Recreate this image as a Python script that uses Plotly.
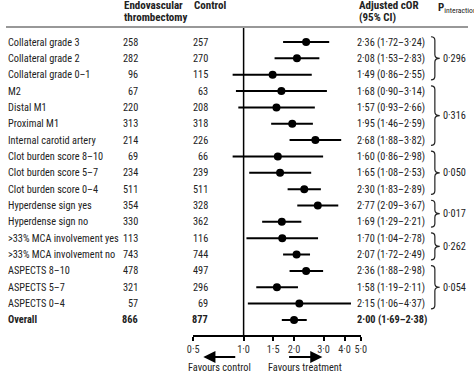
import math
import plotly.graph_objects as go

# ---------------- data ----------------
labels = ["Collateral grade 3", "Collateral grade 2", "Collateral grade 0–1", "M2", "Distal M1",
          "Proximal M1", "Internal carotid artery", "Clot burden score 8–10", "Clot burden score 5–7",
          "Clot burden score 0–4", "Hyperdense sign yes", "Hyperdense sign no",
          ">33% MCA involvement yes", ">33% MCA involvement no", "ASPECTS 8–10", "ASPECTS 5–7",
          "ASPECTS 0–4", "Overall"]
n_evt = [258, 282, 96, 67, 220, 313, 214, 69, 234, 511, 354, 330, 113, 743, 478, 321, 57, 866]
n_ctrl = [257, 270, 115, 63, 208, 318, 226, 66, 239, 511, 328, 362, 116, 744, 497, 296, 69, 877]
cor = [2.36, 2.08, 1.49, 1.68, 1.57, 1.95, 2.68, 1.60, 1.65, 2.30, 2.77, 1.69, 1.70, 2.07, 2.36, 1.58, 2.15, 2.00]
ci_lo = [1.72, 1.53, 0.86, 0.90, 0.93, 1.46, 1.88, 0.86, 1.08, 1.83, 2.09, 1.29, 1.04, 1.72, 1.88, 1.19, 1.06, 1.69]
ci_hi = [3.24, 2.83, 2.55, 3.14, 2.66, 2.59, 3.82, 2.98, 2.53, 2.89, 3.67, 2.21, 2.78, 2.49, 2.98, 2.11, 4.37, 2.38]
groups = [(0, 2), (3, 6), (7, 9), (10, 11), (12, 13), (14, 16)]
p_interaction = ["0·296", "0·316", "0·050", "0·017", "0·262", "0·054"]
tick_vals = [0.5, 1.0, 1.5, 2.0, 3.0, 4.0, 5.0]
tick_text = ["0·5", "1·0", "1·5", "2·0", "3·0", "4·0", "5·0"]

# ---------------- layout constants ----------------
W, H = 474, 374
ROW0_PX, ROW_PX = 42, 16.35
FONT = "Roboto Condensed, DejaVu Sans Condensed, sans-serif"
TXT = "#222222"
FS = 10.3


def px(x):
    return x / W


def py(y):
    return 1 - y / H


def lg(v):
    return math.log10(v)


def fmt(v):
    return f"{v:.2f}".replace(".", "·")


n = len(labels)
rows = list(range(n))
fig = go.Figure()

# CI lines
lx, ly = [], []
for i in rows:
    lx += [ci_lo[i], ci_hi[i], None]
    ly += [i, i, None]
fig.add_trace(go.Scatter(x=lx, y=ly, mode="lines", line=dict(color="black", width=2),
                         hoverinfo="skip", showlegend=False))
fig.add_trace(go.Scatter(x=cor, y=rows, mode="markers", marker=dict(color="black", size=8),
                         showlegend=False))

ann = []
for i in rows:
    bold = labels[i] == "Overall"
    b = (lambda s: f"<b>{s}</b>") if bold else (lambda s: s)
    ann.append(dict(x=0, xref="paper", y=i, yref="y", text=b(labels[i]), xanchor="left",
                    yanchor="middle", showarrow=False, font=dict(size=FS, color=TXT)))
    ann.append(dict(x=px(137), xref="paper", y=i, yref="y", text=b(str(n_evt[i])), xanchor="right",
                    yanchor="middle", showarrow=False, font=dict(size=FS, color=TXT)))
    ann.append(dict(x=px(209), xref="paper", y=i, yref="y", text=b(str(n_ctrl[i])), xanchor="right",
                    yanchor="middle", showarrow=False, font=dict(size=FS, color=TXT)))
    ann.append(dict(x=px(358), xref="paper", y=i, yref="y",
                    text=b(f"{fmt(cor[i])} ({fmt(ci_lo[i])}–{fmt(ci_hi[i])})"), xanchor="left",
                    yanchor="middle", showarrow=False, font=dict(size=FS, color=TXT)))

# headers
hdr = dict(size=FS + 0.7, color=TXT)
for txt, x, y in [("<b>Endovascular</b>", 119, 5), ("<b>thrombectomy</b>", 119, 17.5),
                  ("<b>Control</b>", 191, 5), ("<b>Adjusted cOR</b>", 360, 5),
                  ("<b>(95% CI)</b>", 360, 17.5), ("<b>P</b><sub>interaction</sub>", 441, 8)]:
    ann.append(dict(x=px(x), xref="paper", y=py(y), yref="paper", text=txt, xanchor="left",
                    yanchor="middle", showarrow=False, font=hdr))

shapes = [
    dict(type="line", xref="paper", yref="paper", x0=0, x1=1, y0=py(27), y1=py(27),
         line=dict(color="#333", width=1.2)),
    dict(type="line", xref="x", yref="paper", x0=1, x1=1, y0=py(336), y1=py(28),
         line=dict(color="black", width=1.5)),
]

# braces + p values
x0b, x1b, x2b = px(436), px(440), px(445)
for (a, bnd), p in zip(groups, p_interaction):
    yt, yb = a - 0.32, bnd + 0.32
    ym = (yt + yb) / 2
    c = 0.22
    path = (f"M {x0b},{yt} Q {x1b},{yt} {x1b},{yt + c} L {x1b},{ym - c} "
            f"Q {x1b},{ym} {x2b},{ym} Q {x1b},{ym} {x1b},{ym + c} "
            f"L {x1b},{yb - c} Q {x1b},{yb} {x0b},{yb}")
    shapes.append(dict(type="path", xref="paper", yref="y", path=path,
                       line=dict(color="#222", width=1.2)))
    ann.append(dict(x=px(446), xref="paper", y=ym, yref="y", text=p, xanchor="left",
                    yanchor="middle", showarrow=False, font=dict(size=FS, color=TXT)))

# arrows and favours labels (annotation x on a log axis is given in log10 units)
ann.append(dict(x=lg(0.575), xref="x", y=py(357), yref="paper", ax=lg(0.91), axref="x", ay=0,
                ayref="pixel", yanchor="middle", showarrow=True, arrowhead=2, arrowsize=1.1,
                arrowwidth=2.2, arrowcolor="black", text=""))
ann.append(dict(x=lg(2.95), xref="x", y=py(357), yref="paper", ax=lg(1.83), axref="x", ay=0,
                ayref="pixel", yanchor="middle", showarrow=True, arrowhead=2, arrowsize=1.1,
                arrowwidth=2.2, arrowcolor="black", text=""))
ann.append(dict(x=lg(0.718), xref="x", y=py(367.5), yref="paper", text="Favours control",
                yanchor="middle", showarrow=False, font=dict(size=FS, color=TXT)))
ann.append(dict(x=lg(2.32), xref="x", y=py(367.5), yref="paper", text="Favours treatment",
                yanchor="middle", showarrow=False, font=dict(size=FS, color=TXT)))

fig.update_layout(
    width=W, height=H, margin=dict(l=0, r=0, t=0, b=0),
    paper_bgcolor="white", plot_bgcolor="white",
    font=dict(family=FONT, size=FS, color=TXT),
    annotations=ann, shapes=shapes, showlegend=False,
    xaxis=dict(type="log", range=[math.log10(0.5), math.log10(5)], domain=[px(192), px(364)],
               showgrid=False, zeroline=False, showline=True, linecolor="black", linewidth=1.5,
               ticks="outside", ticklen=4, tickwidth=1.5, tickcolor="black",
               tickvals=tick_vals, ticktext=tick_text, tickangle=0, anchor="free", position=py(336),
               tickfont=dict(size=FS, color="#333"), fixedrange=True),
    yaxis=dict(range=[(H - ROW0_PX) / ROW_PX, -ROW0_PX / ROW_PX], domain=[0, 1], visible=False,
               fixedrange=True),
)

fig.write_html("out.html", config={"displayModeBar": False},
               post_script="document.body.style.margin='0';")
